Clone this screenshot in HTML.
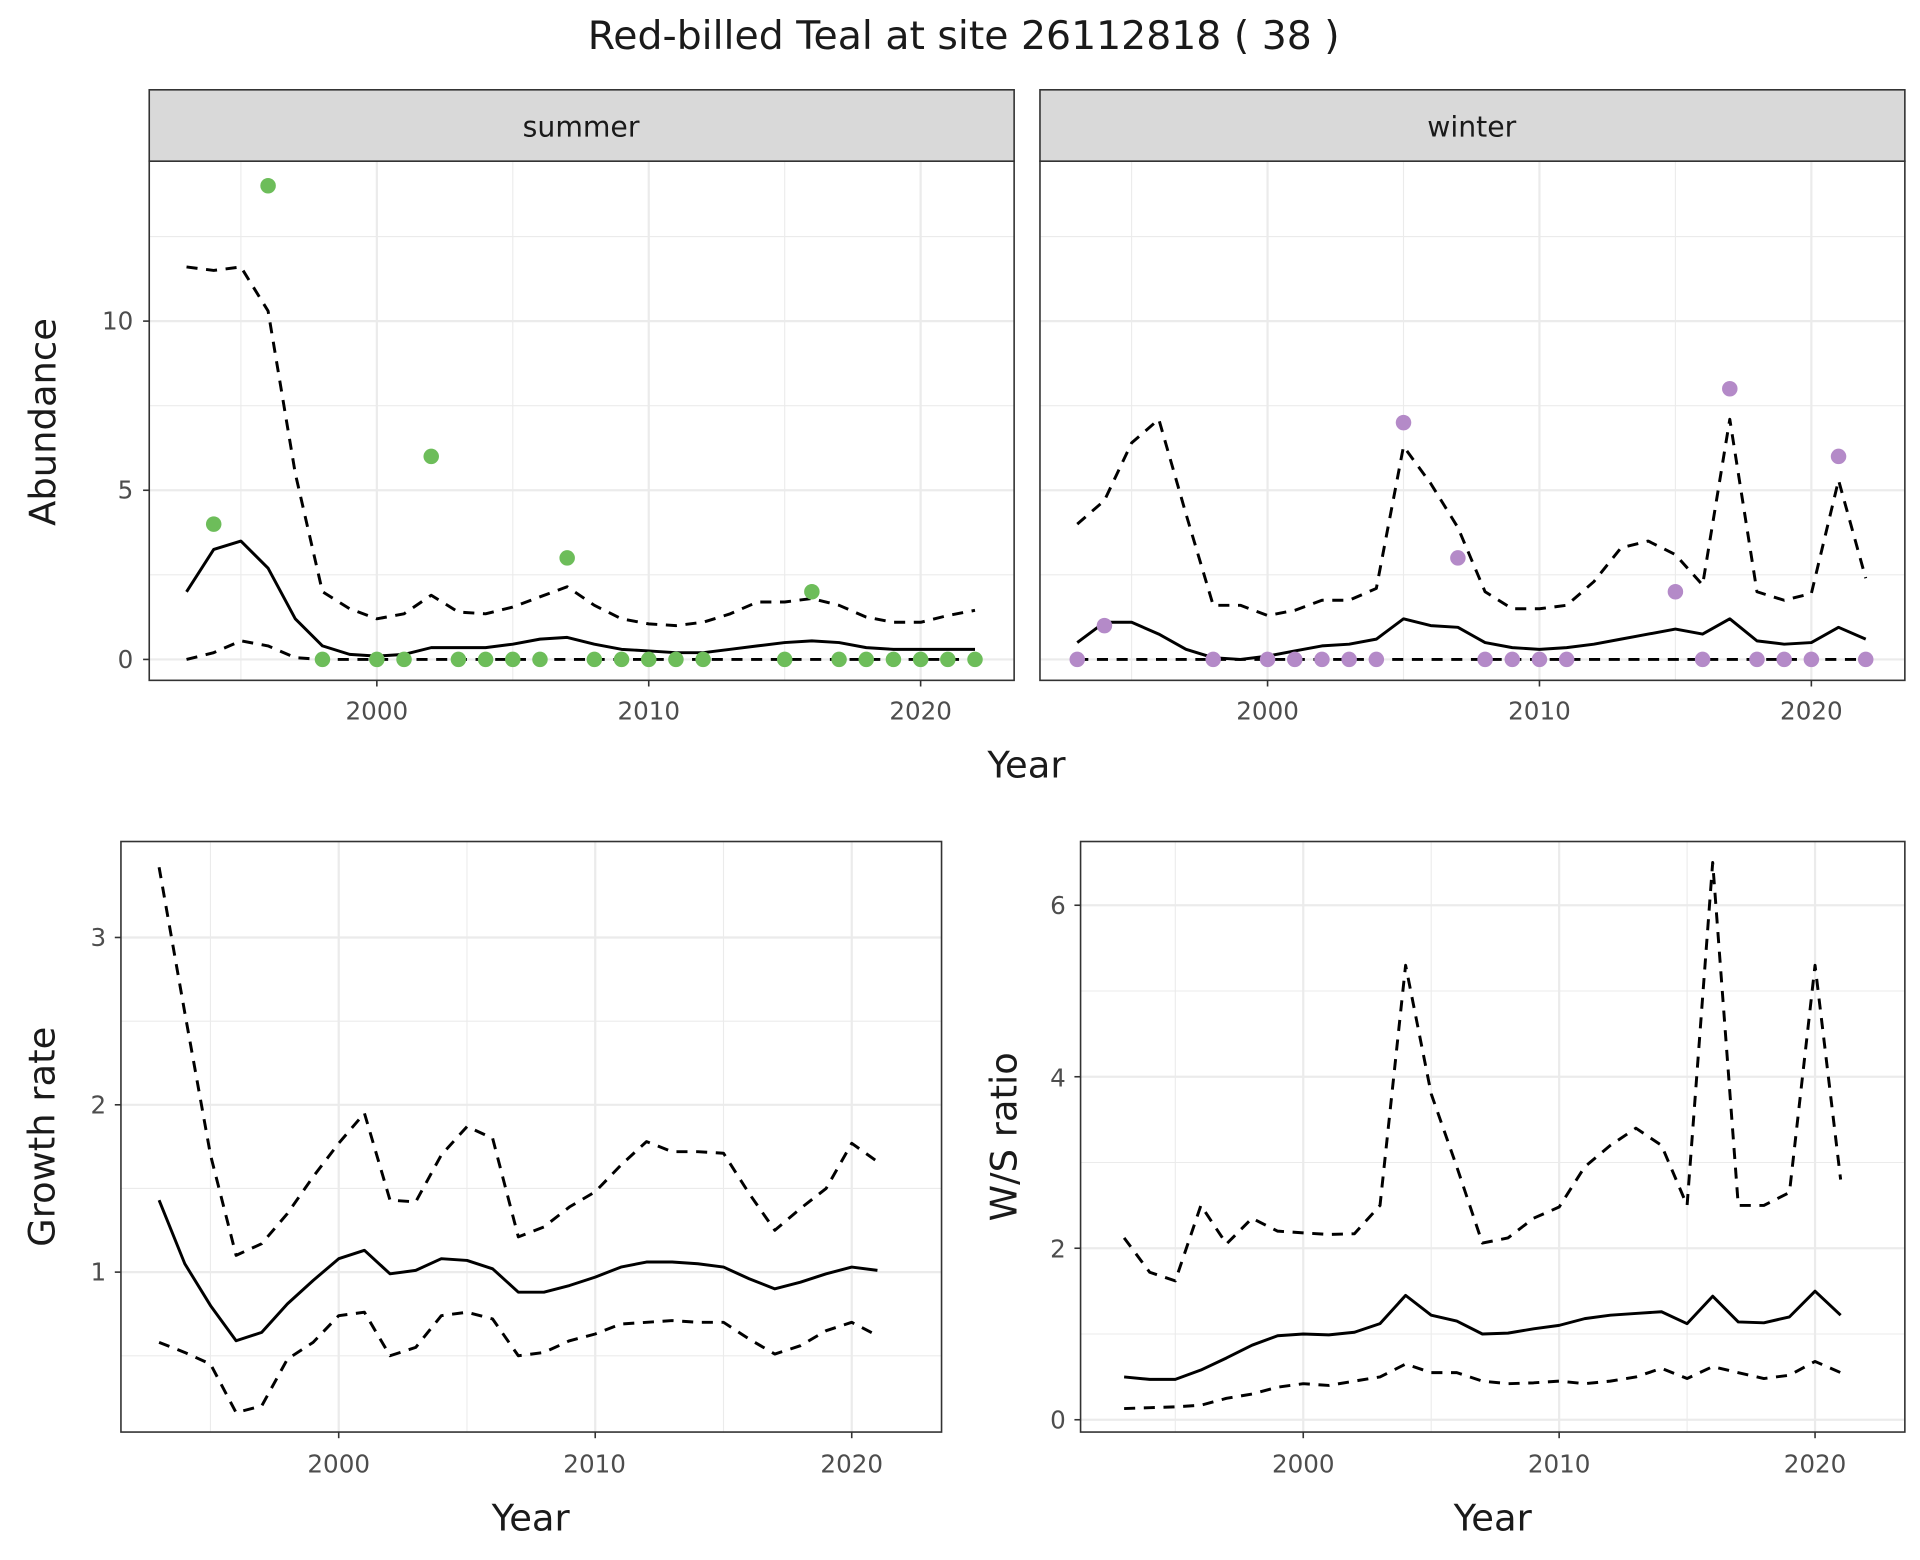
<!DOCTYPE html>
<html><head><meta charset="utf-8"><style>
html,body{margin:0;padding:0;background:#fff;}
svg{display:block;font-family:"DejaVu Sans","Liberation Sans",sans-serif;}
</style></head><body>
<svg id="s" width="1920" height="1560" viewBox="0 0 1560 1268" xmlns="http://www.w3.org/2000/svg">
<rect width="1560" height="1268" fill="#fff"/>
<g id="grid"></g>
<g id="data"></g>
<g fill="none" stroke="#333" stroke-width="1.3">
<rect x="121" y="131" width="703" height="422"/>
<rect x="845" y="131" width="703" height="422"/>
<rect x="98" y="684" width="667" height="480"/>
<rect x="878" y="684" width="670" height="480"/>
</g>
<rect x="121" y="73" width="703" height="58" fill="#d9d9d9" stroke="#333" stroke-width="1.3"/>
<rect x="845" y="73" width="703" height="58" fill="#d9d9d9" stroke="#333" stroke-width="1.3"/>
<g id="ticks" stroke="#333" stroke-width="1.3"></g>
<g fill="#1a1a1a">
<text x="783" y="40" font-size="32" text-anchor="middle">Red-billed Teal at site 26112818 ( 38 )</text>
<text x="472" y="111" font-size="23" text-anchor="middle">summer</text>
<text x="1196" y="111" font-size="23" text-anchor="middle">winter</text>
<text x="834" y="632" font-size="30" text-anchor="middle">Year</text>
<text x="431" y="1244" font-size="30" text-anchor="middle">Year</text>
<text x="1213" y="1244" font-size="30" text-anchor="middle">Year</text>
<text transform="translate(45,343) rotate(-90)" font-size="30" text-anchor="middle">Abundance</text>
<text transform="translate(44,924) rotate(-90)" font-size="30" text-anchor="middle">Growth rate</text>
<text transform="translate(826,924) rotate(-90)" font-size="30" text-anchor="middle">W/S ratio</text>
</g>
<g fill="#4d4d4d" font-size="20">
<g text-anchor="end">
<text x="108" y="268">10</text><text x="108" y="405">5</text><text x="108" y="543">0</text>
<text x="86" y="1041">1</text><text x="86" y="905">2</text><text x="86" y="769">3</text>
<text x="866" y="1161">0</text><text x="866" y="1022">2</text><text x="866" y="883">4</text><text x="866" y="743">6</text>
</g>
<g text-anchor="middle">
<text x="306" y="585">2000</text><text x="527" y="585">2010</text><text x="748" y="585">2020</text>
<text x="1030" y="585">2000</text><text x="1251" y="585">2010</text><text x="1472" y="585">2020</text>
<text x="275" y="1197">2000</text><text x="483" y="1197">2010</text><text x="692" y="1197">2020</text>
<text x="1059" y="1197">2000</text><text x="1267" y="1197">2010</text><text x="1475" y="1197">2020</text>
</g>
</g>
</svg>
<script>
var NS="http://www.w3.org/2000/svg";
function el(p,t,a){var e=document.createElementNS(NS,t);for(var k in a)e.setAttribute(k,a[k]);document.getElementById(p).appendChild(e);return e;}
function panel(o){
 var xf=function(y){return o.x0+(y-2000)*o.xs;}, yf=function(v){return o.y0-v*o.ys;};
 o.xmin.forEach(function(y){el('grid','line',{x1:xf(y),x2:xf(y),y1:o.top,y2:o.bot,stroke:'#ebebeb','stroke-width':0.9});});
 o.ymin.forEach(function(v){el('grid','line',{x1:o.l,x2:o.r,y1:yf(v),y2:yf(v),stroke:'#ebebeb','stroke-width':0.9});});
 o.xmaj.forEach(function(y){el('grid','line',{x1:xf(y),x2:xf(y),y1:o.top,y2:o.bot,stroke:'#ebebeb','stroke-width':1.8});
   el('ticks','line',{x1:xf(y),x2:xf(y),y1:o.bot,y2:o.bot+5});});
 o.ymaj.forEach(function(v){el('grid','line',{x1:o.l,x2:o.r,y1:yf(v),y2:yf(v),stroke:'#ebebeb','stroke-width':1.8});
   if(o.ytick)el('ticks','line',{x1:o.l-5,x2:o.l,y1:yf(v),y2:yf(v)});});
 function line(arr,dash){var d='';arr.forEach(function(v,i){d+=(i?'L':'M')+xf(o.start+i).toFixed(1)+','+yf(v).toFixed(1);});
   var a={d:d,fill:'none',stroke:'#000','stroke-width':2.4,'stroke-linejoin':'round'};if(dash)a['stroke-dasharray']='9,7';el('data','path',a);}
 line(o.up,1);line(o.lo,1);line(o.mean,0);
 if(o.pts)o.pts.forEach(function(p){el('data','circle',{cx:xf(p[0]),cy:yf(p[1]),r:6.3,fill:o.col});});
}
var z30=[];for(var i=0;i<30;i++)z30.push(0);
panel({x0:306,xs:22.1,y0:536,ys:27.5,l:121,r:824,top:131,bot:553,start:1993,ytick:1,
 xmaj:[2000,2010,2020],xmin:[1995,2005,2015],ymaj:[0,5,10],ymin:[2.5,7.5,12.5],col:'#6dbd5a',
 mean:[2,3.25,3.5,2.7,1.2,0.4,0.15,0.1,0.15,0.35,0.35,0.35,0.45,0.6,0.65,0.45,0.3,0.25,0.2,0.2,0.3,0.4,0.5,0.55,0.5,0.35,0.3,0.3,0.3,0.3],
 up:[11.6,11.5,11.6,10.3,5.5,2,1.5,1.2,1.35,1.9,1.4,1.35,1.55,1.85,2.15,1.6,1.2,1.05,1,1.1,1.35,1.7,1.7,1.8,1.6,1.25,1.1,1.1,1.3,1.45],
 lo:[0,0.2,0.55,0.4,0.05,0,0,0,0,0,0,0,0,0,0,0,0,0,0,0,0,0,0,0,0,0,0,0,0,0],
 pts:[[1994,4],[1996,14],[1998,0],[2000,0],[2001,0],[2002,6],[2003,0],[2004,0],[2005,0],[2006,0],[2007,3],[2008,0],[2009,0],[2010,0],[2011,0],[2012,0],[2015,0],[2016,2],[2017,0],[2018,0],[2019,0],[2020,0],[2021,0],[2022,0]]});
panel({x0:1030,xs:22.1,y0:536,ys:27.5,l:845,r:1548,top:131,bot:553,start:1993,ytick:0,
 xmaj:[2000,2010,2020],xmin:[1995,2005,2015],ymaj:[0,5,10],ymin:[2.5,7.5,12.5],col:'#b48ac8',
 mean:[0.5,1.1,1.1,0.75,0.3,0.05,0,0.1,0.25,0.4,0.45,0.6,1.2,1,0.95,0.5,0.35,0.3,0.35,0.45,0.6,0.75,0.9,0.75,1.2,0.55,0.45,0.5,0.95,0.6],
 up:[4,4.7,6.4,7.1,4.3,1.6,1.6,1.3,1.45,1.75,1.75,2.1,6.3,5.2,3.9,2,1.5,1.5,1.6,2.3,3.3,3.5,3.1,2.2,7.1,2,1.75,1.95,5.3,2.4],
 lo:z30,
 pts:[[1993,0],[1994,1],[1998,0],[2000,0],[2001,0],[2002,0],[2003,0],[2004,0],[2005,7],[2007,3],[2008,0],[2009,0],[2010,0],[2011,0],[2015,2],[2016,0],[2017,8],[2018,0],[2019,0],[2020,0],[2021,6],[2022,0]]});
panel({x0:275,xs:20.85,y0:1170,ys:136,l:98,r:765,top:684,bot:1164,start:1993,ytick:1,
 xmaj:[2000,2010,2020],xmin:[1995,2005,2015],ymaj:[1,2,3],ymin:[0.5,1.5,2.5],
 mean:[1.43,1.05,0.8,0.59,0.64,0.81,0.95,1.08,1.13,0.99,1.01,1.08,1.07,1.02,0.88,0.88,0.92,0.97,1.03,1.06,1.06,1.05,1.03,0.96,0.9,0.94,0.99,1.03,1.01],
 up:[3.42,2.55,1.7,1.1,1.17,1.35,1.57,1.77,1.95,1.43,1.42,1.7,1.87,1.8,1.21,1.27,1.39,1.48,1.64,1.78,1.72,1.72,1.71,1.47,1.25,1.38,1.5,1.77,1.66],
 lo:[0.58,0.52,0.45,0.16,0.2,0.48,0.58,0.74,0.76,0.5,0.55,0.74,0.76,0.72,0.5,0.52,0.59,0.63,0.69,0.7,0.71,0.7,0.7,0.6,0.51,0.56,0.65,0.7,0.62]});
panel({x0:1059,xs:20.8,y0:1154,ys:69.7,l:878,r:1548,top:684,bot:1164,start:1993,ytick:1,
 xmaj:[2000,2010,2020],xmin:[1995,2005,2015],ymaj:[0,2,4,6],ymin:[1,3,5],
 mean:[0.5,0.47,0.47,0.58,0.72,0.87,0.98,1,0.99,1.02,1.12,1.45,1.22,1.15,1,1.01,1.06,1.1,1.18,1.22,1.24,1.26,1.12,1.44,1.14,1.13,1.2,1.5,1.22],
 up:[2.12,1.72,1.62,2.5,2.05,2.35,2.2,2.18,2.16,2.17,2.5,5.3,3.8,2.95,2.06,2.12,2.35,2.48,2.95,3.2,3.4,3.2,2.5,6.5,2.5,2.5,2.65,5.3,2.8],
 lo:[0.13,0.14,0.15,0.17,0.25,0.3,0.38,0.42,0.4,0.45,0.5,0.65,0.55,0.55,0.45,0.42,0.43,0.45,0.42,0.45,0.5,0.6,0.48,0.62,0.55,0.48,0.52,0.68,0.55]});
</script>
</body></html>
